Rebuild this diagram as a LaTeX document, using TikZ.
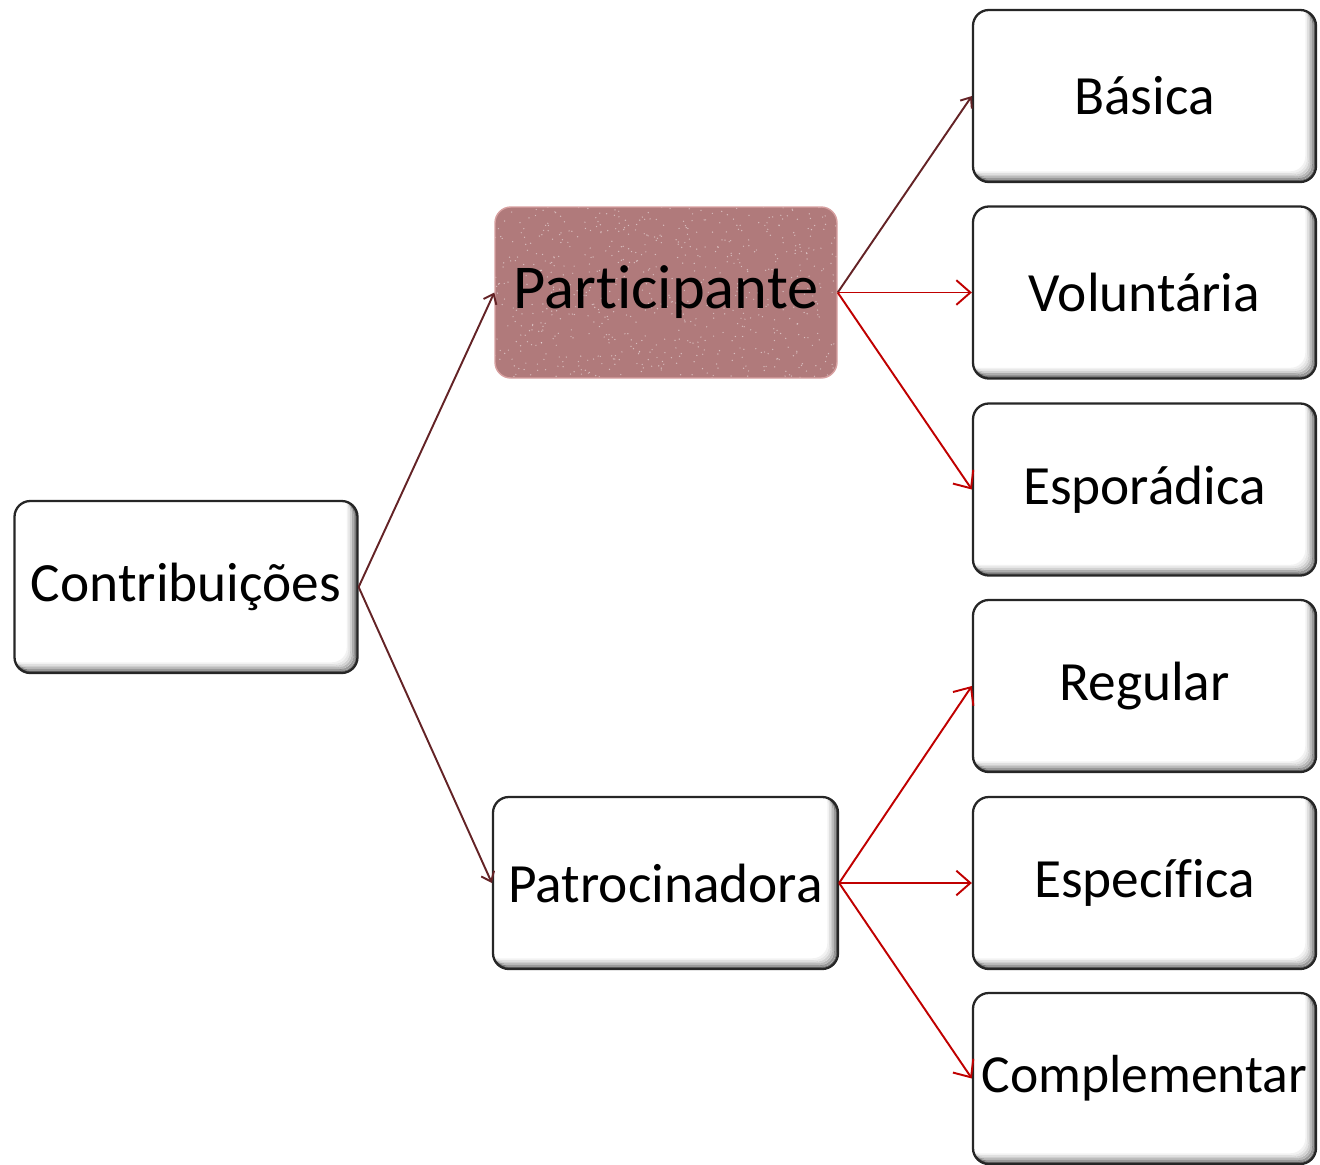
\documentclass[tikz,border=0pt]{standalone}
\usepackage{fontspec}
\setmainfont{Carlito}[Ligatures=NoCommon]
\usetikzlibrary{arrows.meta}

\definecolor{vinho}{RGB}{100,35,38}
\definecolor{vermelho}{RGB}{192,0,0}
\definecolor{rosado}{RGB}{176,122,123}
\definecolor{bordarosa}{RGB}{215,160,160}

\tikzset{
    caixa/.style={draw=black!85, line width=1.3pt, fill=white, rounded corners=9pt,
        minimum width=6.86cm, minimum height=3.44cm, inner sep=0pt, font=\fontsize{31.5}{36}\selectfont,
        path picture={
            \foreach \d/\o in {0.5/0.55,1.5/0.4,2.5/0.28,3.5/0.18,4.5/0.1,5.5/0.05}{
                \draw[black, opacity=\o, line width=1.2pt, rounded corners=9pt]
                    ([shift={(-\d pt,\d pt)}]path picture bounding box.south west)
                    rectangle ([shift={(-\d pt,\d pt)}]path picture bounding box.north east);
            }
        }},
    destaque/.style={draw=bordarosa, line width=0.8pt, fill=rosado, rounded corners=9pt,
        minimum width=6.84cm, minimum height=3.42cm, inner sep=0pt, font=\fontsize{35.5}{40}\selectfont,
        path picture={
            \pgfmathsetseed{7}
            \foreach \i in {1,...,700}{
                \fill[white, opacity=0.5] ($(path picture bounding box.south west)+(rnd*6.84,rnd*3.42)$) circle (0.4pt);
            }
        }},
    liga/.style={draw=vinho, line width=1.1pt, -{Straight Barb[length=5pt,width=8pt]}},
    ligav/.style={draw=vermelho, line width=1.1pt, -{Straight Barb[length=8pt,width=14pt]}}
}
\usetikzlibrary{calc}

\begin{document}
\begin{tikzpicture}
    \useasboundingbox (0,0) rectangle (26.4,-23.28);

    %Caixas
        \node[caixa] (contrib) at (3.72,-11.74) {Contribuições};
        \node[destaque] (partic) at (13.32,-5.85) {Participante};
        \node[caixa, minimum width=6.9cm] (patroc) at (13.31,-17.66) {Patrocinadora};

        \node[caixa] (basica) at (22.89,-1.92) {Básica};
        \node[caixa] (volunt) at (22.89,-5.85) {Voluntária};
        \node[caixa] (espor) at (22.89,-9.79) {Esporádica};
        \node[caixa] (regular) at (22.89,-13.72) {Regular};
        \node[caixa] (especif) at (22.89,-17.66) {Específica};
        \node[caixa, minimum height=3.42cm, font=\fontsize{30.5}{35}\selectfont] (compl) at (22.89,-21.57) {Complementar};

    %Setas
        \draw[liga] (contrib.east) -- (partic.west);
        \draw[liga] (contrib.east) -- (patroc.west);

        \draw[liga] (partic.east) -- (basica.west);
        \draw[ligav] (partic.east) -- (volunt.west);
        \draw[ligav] (partic.east) -- (espor.west);

        \draw[ligav] (patroc.east) -- (regular.west);
        \draw[ligav] (patroc.east) -- (especif.west);
        \draw[ligav] (patroc.east) -- (compl.west);

\end{tikzpicture}
\end{document}
